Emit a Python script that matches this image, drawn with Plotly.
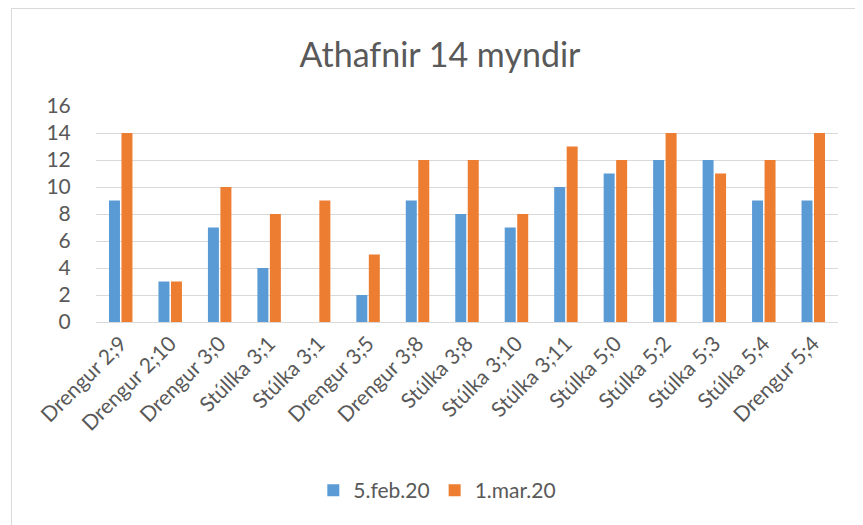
import plotly.graph_objects as go

categories = ["Drengur 2;9", "Drengur 2;10", "Drengur 3;0", "Stúllka 3;1", "Stúlka 3;1",
              "Drengur 3;5", "Drengur 3;8", "Stúlka 3;8", "Stúlka 3;10", "Stúlka 3;11",
              "Stúlka 5;0", "Stúlka 5;2", "Stúlka 5;3", "Stúlka 5;4", "Drengur 5;4"]
feb_values = [9, 3, 7, 4, 0, 2, 9, 8, 7, 10, 11, 12, 12, 9, 9]
mar_values = [14, 3, 10, 8, 9, 5, 12, 12, 8, 13, 12, 14, 11, 12, 14]
series_names = ["5.feb.20", "1.mar.20"]
y_ticks = [0, 2, 4, 6, 8, 10, 12, 14, 16]

positions = list(range(len(categories)))
FONT = "Lato"
TXT = "#595959"
OFF = 8  # default page body margin

W, H = 863 - OFF, 525 - OFF

fig = go.Figure()
fig.add_trace(go.Bar(x=positions, y=feb_values, name=series_names[0],
                     marker=dict(color="#5B9BD5", line=dict(width=0))))
fig.add_trace(go.Bar(x=positions, y=mar_values, name=series_names[1],
                     marker=dict(color="#ED7D31", line=dict(width=0))))

fig.update_layout(
    width=W, height=H,
    margin=dict(l=96 - OFF, r=25, t=106 - OFF, b=203, autoexpand=False),
    paper_bgcolor="white", plot_bgcolor="white",
    barmode="group", bargap=0.495, bargroupgap=0.12,
    font=dict(family=FONT, color=TXT),
    title=dict(text="Athafnir 14 myndir", x=(440 - OFF) / W, xanchor="center",
               y=1 - (55 - OFF) / H, yanchor="middle", yref="container",
               font=dict(family=FONT, size=34, color=TXT)),
    xaxis=dict(tickmode="array", tickvals=positions, ticktext=categories,
               range=[-0.5, len(categories) - 0.5], tickangle=-45,
               tickfont=dict(family=FONT, size=21, color=TXT), automargin=False,
               showgrid=False, showline=True, linecolor="#D9D9D9", linewidth=1,
               ticks="", zeroline=False, fixedrange=True),
    yaxis=dict(tickmode="array", tickvals=y_ticks, range=[0, 16],
               tickfont=dict(family=FONT, size=21, color=TXT), automargin=False,
               showgrid=True, gridcolor="#D9D9D9", gridwidth=1,
               zeroline=False, showline=False, ticks="outside", ticklen=20,
               tickcolor="rgba(0,0,0,0)", fixedrange=True),
    legend=dict(orientation="h", x=0.460, xanchor="center", y=-0.78, yanchor="middle",
                font=dict(family=FONT, size=21, color=TXT), itemwidth=30,
                traceorder="normal"),
    shapes=[dict(type="rect", xref="paper", yref="paper",
                 x0=(11.5 - 96) / 742, x1=(875 - 96) / 742,
                 y0=(322 - 545) / 216, y1=1 + (106 - 8.5) / 216,
                 line=dict(color="#D9D9D9", width=1), layer="below")],
)

fig.write_html("out.html")
